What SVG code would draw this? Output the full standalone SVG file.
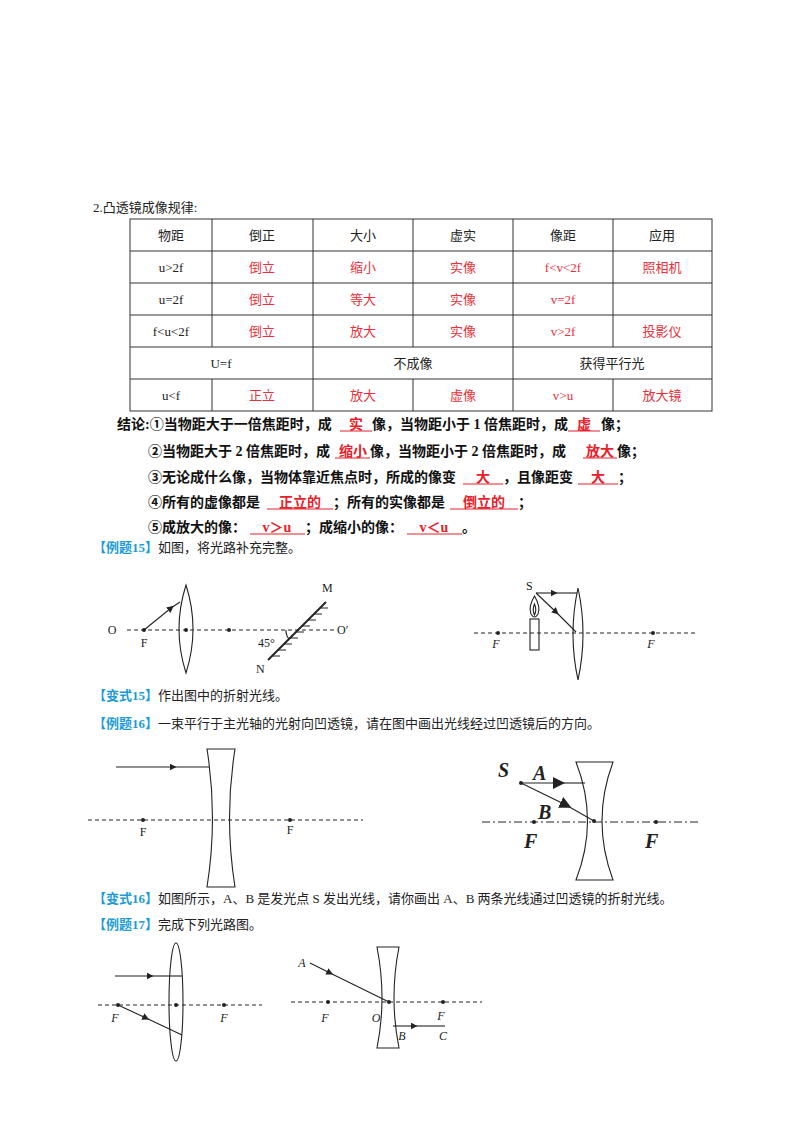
<svg xmlns="http://www.w3.org/2000/svg" width="800" height="1132" viewBox="0 0 800 1132">
<style>
text{font-family:"Liberation Serif","Noto Sans CJK SC",serif;fill:#222}
.t{font-size:13px;text-anchor:middle}
.r{fill:#e8303a}
.b{font-size:14px;font-weight:bold;fill:#111}
.br{font-size:14px;font-weight:bold;fill:#e8202a;text-anchor:middle}
.ul{stroke:#e8202a;stroke-width:1}
.h{font-size:13px;font-weight:bold;fill:#1a9bd7}
.g{stroke:#333;stroke-width:1;fill:none}
.ln{stroke:#222;stroke-width:1.1;fill:none}
.ax{stroke:#222;stroke-width:1;stroke-dasharray:4,3;fill:none}
.dd{stroke:#222;stroke-width:1;stroke-dasharray:8,3,2,3;fill:none}
.lab{font-size:12px}
.it{font-style:italic}
.big{font-size:20px;font-style:italic;font-weight:bold;font-family:"Liberation Serif",serif}
</style>
<defs>
<marker id="ar" viewBox="0 0 10 10" refX="5" refY="5" markerWidth="7" markerHeight="7" orient="auto" markerUnits="userSpaceOnUse"><path d="M0,0L10,5L0,10z" fill="#222"/></marker>
<marker id="arb" viewBox="0 0 10 10" refX="5" refY="5" markerWidth="12" markerHeight="12" orient="auto" markerUnits="userSpaceOnUse"><path d="M0,0L10,5L0,10z" fill="#222"/></marker>
</defs>
<text x="93" y="212" style="font-size:13px">2.凸透镜成像规律:</text>
<g id="table">
<rect x="130" y="219" width="582" height="192" class="g"/>
<path class="g" d="M130 251H712M130 283H712M130 315H712M130 347H712M130 379H712M212 219V347M212 379V411M313 219V411M413 219V347M413 379V411M513 219V411M613 219V347M613 379V411"/>
<g class="t">
<text x="171" y="240">物距</text><text x="262" y="240">倒正</text><text x="363" y="240">大小</text><text x="463" y="240">虚实</text><text x="563" y="240">像距</text><text x="662" y="240">应用</text>
<text x="171" y="272">u&gt;2f</text><text x="262" y="272" class="r">倒立</text><text x="363" y="272" class="r">缩小</text><text x="463" y="272" class="r">实像</text><text x="563" y="272" class="r">f&lt;v&lt;2f</text><text x="662" y="272" class="r">照相机</text>
<text x="171" y="304">u=2f</text><text x="262" y="304" class="r">倒立</text><text x="363" y="304" class="r">等大</text><text x="463" y="304" class="r">实像</text><text x="563" y="304" class="r">v=2f</text>
<text x="171" y="336">f&lt;u&lt;2f</text><text x="262" y="336" class="r">倒立</text><text x="363" y="336" class="r">放大</text><text x="463" y="336" class="r">实像</text><text x="563" y="336" class="r">v&gt;2f</text><text x="662" y="336" class="r">投影仪</text>
<text x="221" y="368">U=f</text><text x="413" y="368">不成像</text><text x="612" y="368">获得平行光</text>
<text x="171" y="400">u&lt;f</text><text x="262" y="400" class="r">正立</text><text x="363" y="400" class="r">放大</text><text x="463" y="400" class="r">虚像</text><text x="563" y="400" class="r">v&gt;u</text><text x="662" y="400" class="r">放大镜</text>
</g>
</g>
<g id="conclusions">
<text x="117" y="429" class="b">结论:①当物距大于一倍焦距时，成</text><text x="356" y="429" class="br">实</text><text x="372" y="429" class="b">像，当物距小于 1 倍焦距时，成</text><text x="584" y="429" class="br">虚</text><text x="601" y="429" class="b">像；</text>
<line x1="340" y1="431" x2="372" y2="431" class="ul"/><line x1="568" y1="431" x2="600" y2="431" class="ul"/>
<text x="148" y="456" class="b">②当物距大于 2 倍焦距时，成</text><text x="353" y="456" class="br">缩小</text><text x="370" y="456" class="b">像，当物距小于 2 倍焦距时，成</text><text x="600" y="456" class="br">放大</text><text x="617" y="456" class="b">像；</text>
<line x1="335" y1="458" x2="370" y2="458" class="ul"/><line x1="583" y1="458" x2="617" y2="458" class="ul"/>
<text x="148" y="482" class="b">③无论成什么像，当物体靠近焦点时，所成的像变</text><text x="483" y="482" class="br">大</text><text x="503" y="482" class="b">，且像距变</text><text x="598" y="482" class="br">大</text><text x="618" y="482" class="b">；</text>
<line x1="463" y1="484" x2="503" y2="484" class="ul"/><line x1="578" y1="484" x2="618" y2="484" class="ul"/>
<text x="148" y="507" class="b">④所有的虚像都是</text><text x="300" y="507" class="br">正立的</text><text x="333" y="507" class="b">；所有的实像都是</text><text x="484" y="507" class="br">倒立的</text><text x="518" y="507" class="b">；</text>
<line x1="267" y1="509" x2="333" y2="509" class="ul"/><line x1="450" y1="509" x2="518" y2="509" class="ul"/>
<text x="148" y="532" class="b">⑤成放大的像：</text><text x="277" y="532" class="br">v＞u</text><text x="305" y="532" class="b">；成缩小的像：</text><text x="434" y="532" class="br">v＜u</text><text x="462" y="532" class="b">。</text>
<line x1="250" y1="534" x2="305" y2="534" class="ul"/><line x1="407" y1="534" x2="462" y2="534" class="ul"/>
</g>
<text x="93" y="552" class="h">【例题15】<tspan style="font-weight:normal;fill:#222">如图，将光路补充完整。</tspan></text>
<text x="93" y="700" class="h">【变式15】<tspan style="font-weight:normal;fill:#222">作出图中的折射光线。</tspan></text>
<text x="93" y="728" class="h">【例题16】<tspan style="font-weight:normal;fill:#222">一束平行于主光轴的光射向凹透镜，请在图中画出光线经过凹透镜后的方向。</tspan></text>
<text x="93" y="903" class="h">【变式16】<tspan style="font-weight:normal;fill:#222">如图所示，A、B 是发光点 S 发出光线，请你画出 A、B 两条光线通过凹透镜的折射光线。</tspan></text>
<text x="93" y="929" class="h">【例题17】<tspan style="font-weight:normal;fill:#222">完成下列光路图。</tspan></text>

<g id="fig1">
<line x1="127" y1="630" x2="337" y2="630" class="ax"/>
<path class="ln" d="M186 585Q200 629 186 673Q172 629 186 585Z"/>
<circle cx="144" cy="630" r="2" fill="#222"/><circle cx="186" cy="630" r="2" fill="#222"/><circle cx="229" cy="630" r="2" fill="#222"/>
<path class="ln" d="M144 630L171 608" marker-end="url(#ar)"/><path class="ln" d="M171 608L180 602"/>
<line x1="268" y1="660" x2="326" y2="602" stroke="#222" stroke-width="2"/>
<path class="ln" d="M272 656l8 0M278 650l8 0M284 644l8 0M290 638l8 0M296 632l8 0M302 626l8 0M308 620l8 0M314 614l8 0M320 608l8 0"/>
<path class="ln" d="M286 630A13 13 0 0 0 289 639"/>
<text x="112" y="634" class="lab" text-anchor="middle">O</text>
<text x="144" y="647" class="lab" text-anchor="middle">F</text>
<text x="337" y="634" class="lab">O′</text>
<text x="322" y="592" class="lab">M</text>
<text x="256" y="673" class="lab">N</text>
<text x="258" y="647" class="lab">45°</text>
</g>
<g id="fig2">
<line x1="474" y1="633" x2="696" y2="633" class="ax"/>
<path class="ln" d="M578 588Q588 634 578 680Q568 634 578 588Z"/>
<circle cx="498" cy="633" r="2" fill="#222"/><circle cx="653" cy="633" r="2" fill="#222"/>
<rect x="530" y="619" width="9" height="31" class="ln" fill="#fff"/>
<path class="ln" d="M534.5 596Q528 607 531 614Q534.5 620 538 614Q541 607 534.5 596Z"/>
<path class="ln" d="M534.5 604Q532 610 534.5 615Q537 610 534.5 604Z"/>
<path class="ln" d="M536 593L554 593" marker-end="url(#ar)"/><path class="ln" d="M554 593L577 593"/>
<path class="ln" d="M536 593L556 612" marker-end="url(#ar)"/><path class="ln" d="M556 612L576 632"/>
<text x="526" y="590" class="lab">S</text>
<text x="496" y="648" class="lab it" text-anchor="middle">F</text>
<text x="651" y="648" class="lab it" text-anchor="middle">F</text>
</g>
<g id="fig3">
<line x1="88" y1="820" x2="363" y2="820" class="ax"/>
<path class="ln" d="M207 749L235 749Q224 818 235 887L207 887Q218 818 207 749Z"/>
<circle cx="143" cy="820" r="2" fill="#222"/><circle cx="290" cy="820" r="2" fill="#222"/>
<path class="ln" d="M116 767L173 767" marker-end="url(#ar)"/><path class="ln" d="M173 767L209 767"/>
<text x="143" y="836" class="lab" text-anchor="middle">F</text>
<text x="290" y="834" class="lab" text-anchor="middle">F</text>
</g>
<g id="fig4">
<line x1="482" y1="822" x2="701" y2="822" class="dd"/>
<path class="ln" d="M576 762L613 762Q591 821 613 880L576 880Q599 821 576 762Z"/>
<circle cx="534" cy="822" r="2" fill="#222"/><circle cx="656" cy="822" r="2" fill="#222"/><circle cx="594" cy="821" r="2" fill="#222"/>
<circle cx="521" cy="783" r="2" fill="#222"/>
<path class="ln" d="M521 783L559 783" marker-end="url(#arb)"/><path class="ln" d="M559 783L585 783"/>
<path class="ln" d="M521 783L566 805" marker-end="url(#arb)"/><path class="ln" d="M566 805L594 821"/>
<text x="498" y="777" class="big">S</text>
<text x="533" y="780" class="big">A</text>
<text x="538" y="819" class="big">B</text>
<text x="524" y="848" class="big">F</text>
<text x="645" y="848" class="big">F</text>
</g>
<g id="fig5">
<line x1="98" y1="1005" x2="262" y2="1005" class="ax"/>
<ellipse cx="176" cy="1002" rx="7" ry="59" class="ln"/>
<circle cx="118" cy="1005" r="2" fill="#222"/><circle cx="176" cy="1005" r="2" fill="#222"/><circle cx="224" cy="1005" r="2" fill="#222"/>
<path class="ln" d="M115 976L150 976" marker-end="url(#ar)"/><path class="ln" d="M150 976L182 976"/>
<path class="ln" d="M118 1005L146 1018" marker-end="url(#ar)"/><path class="ln" d="M146 1018L182 1035"/>
<text x="115" y="1022" class="lab it" text-anchor="middle">F</text>
<text x="224" y="1022" class="lab it" text-anchor="middle">F</text>
</g>
<g id="fig6">
<line x1="291" y1="1002" x2="482" y2="1002" class="ax"/>
<path class="ln" d="M377 947L399 947Q389 998 399 1048L377 1048Q387 998 377 947Z"/>
<circle cx="328" cy="1002" r="2" fill="#222"/><circle cx="389" cy="1002" r="2" fill="#222"/><circle cx="443" cy="1002" r="2" fill="#222"/>
<path class="ln" d="M310 963L330 973" marker-end="url(#ar)"/><path class="ln" d="M330 973L389 1002"/>
<path class="ln" d="M393 1026L414 1026" marker-end="url(#ar)"/><path class="ln" d="M414 1026L445 1026"/>
<text x="302" y="967" class="lab it" text-anchor="middle">A</text>
<text x="325" y="1022" class="lab it" text-anchor="middle">F</text>
<text x="376" y="1022" class="lab it" text-anchor="middle">O</text>
<text x="441" y="1020" class="lab it" text-anchor="middle">F</text>
<text x="402" y="1040" class="lab it" text-anchor="middle">B</text>
<text x="443" y="1040" class="lab it" text-anchor="middle">C</text>
</g>
</svg>
